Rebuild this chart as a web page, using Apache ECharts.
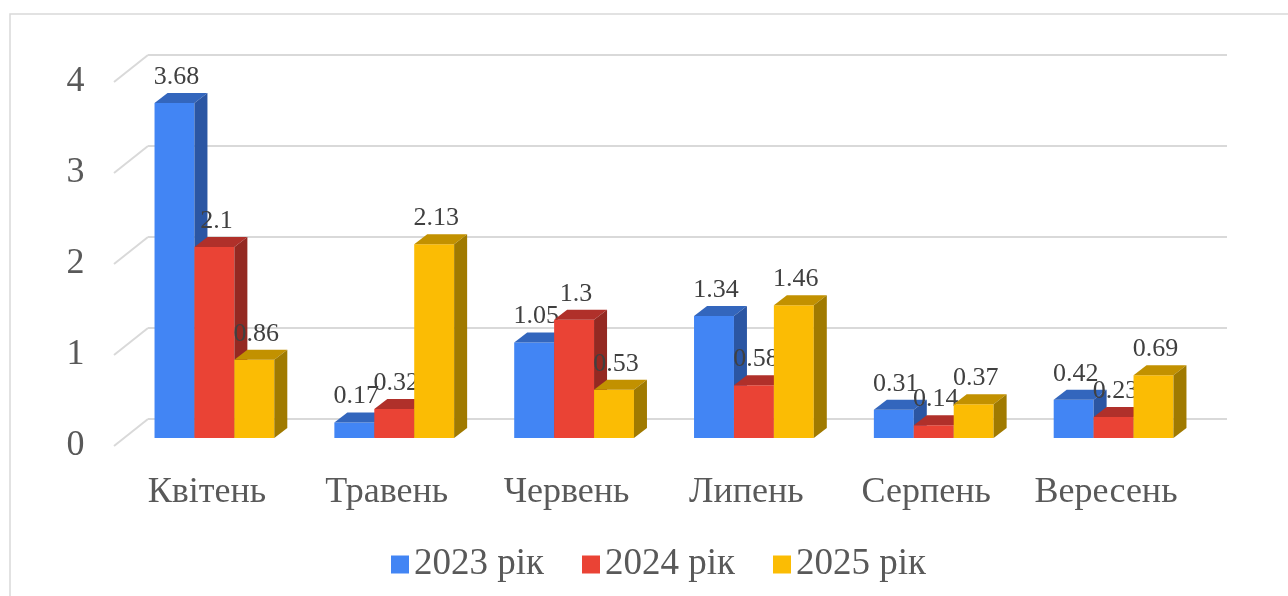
<!DOCTYPE html>
<html>
<head>
<meta charset="utf-8">
<script src="https://cdn.jsdelivr.net/npm/echarts@6/dist/echarts.min.js"></script>
<style>
  html, body { margin: 0; padding: 0; background: #fff; }
  #chart { width: 1288px; height: 596px; }
</style>
</head>
<body>
<div id="chart"></div>
<script>
var months = ['Квітень', 'Травень', 'Червень', 'Липень', 'Серпень', 'Вересень'];
var seriesNames = ['2023 рік', '2024 рік', '2025 рік'];
var values2023 = [3.68, 0.17, 1.05, 1.34, 0.31, 0.42];
var values2024 = [2.1, 0.32, 1.3, 0.58, 0.14, 0.23];
var values2025 = [0.86, 2.13, 0.53, 1.46, 0.37, 0.69];
var yTicks = [0, 1, 2, 3, 4];

var seriesValues = [values2023, values2024, values2025];
// front / top / side colours per series
var faceColors = [
  ['#4285f4', '#3366bd', '#2b56a3'],
  ['#ea4335', '#b0302a', '#942922'],
  ['#fbbc04', '#c29100', '#a07a00']
];
var serif = '"Liberation Serif", "DejaVu Serif", serif';

// bar depth and wall depth (pixels)
var barDx = 13, barDy = 10;
var backDx = 23.5, backDy = 19;
var frontDx = -10.5, frontDy = 8;

function barRender(si) {
  return function (params, api) {
    var cat = api.value(0);
    var val = api.value(1);
    var top = api.coord([cat, val]);
    var base = api.coord([cat, 0]);
    var band = api.size([1, 0])[0];
    var w = band * 0.222;
    var x0 = top[0] + (si - 1.5) * w;
    var yv = top[1], y0 = base[1];
    var c = faceColors[si];
    return {
      type: 'group',
      children: [
        {type: 'rect', shape: {x: x0, y: yv, width: w, height: y0 - yv}, style: {fill: c[0]}},
        {type: 'polygon', shape: {points: [[x0, yv], [x0 + barDx, yv - barDy], [x0 + w + barDx, yv - barDy], [x0 + w, yv]]}, style: {fill: c[1]}},
        {type: 'polygon', shape: {points: [[x0 + w, yv], [x0 + w + barDx, yv - barDy], [x0 + w + barDx, y0 - barDy], [x0 + w, y0]]}, style: {fill: c[2]}},
        {type: 'text', style: {text: String(val), x: x0 + w / 2 + 2, y: yv - barDy - 3, align: 'center', verticalAlign: 'bottom', fill: '#404040', fontSize: 26, fontFamily: serif}}
      ]
    };
  };
}

function gridRender(params, api) {
  var p = api.coord([0, api.value(1)]);
  var cs = params.coordSys;
  var y = p[1];
  var style = {stroke: '#d9d9d9', lineWidth: 2};
  return {
    type: 'group',
    children: [
      {type: 'line', shape: {x1: cs.x + frontDx, y1: y + frontDy, x2: cs.x + backDx, y2: y - backDy}, style: style},
      {type: 'line', shape: {x1: cs.x + backDx, y1: y - backDy, x2: cs.x + cs.width + backDx, y2: y - backDy}, style: style}
    ]
  };
}

var series = [{
  type: 'custom',
  silent: true,
  renderItem: gridRender,
  data: yTicks.map(function (v) { return [0, v]; }),
  z: 1
}];
seriesNames.forEach(function (name, i) {
  series.push({
    name: name,
    type: 'custom',
    renderItem: barRender(i),
    itemStyle: {color: faceColors[i][0]},
    data: seriesValues[i].map(function (v, j) { return [j, v]; }),
    z: 2 + i
  });
});

var chart = echarts.init(document.getElementById('chart'));
chart.setOption({
  animation: false,
  graphic: [{
    type: 'rect',
    shape: {x: 10, y: 14, width: 1300, height: 620},
    style: {fill: 'none', stroke: '#d9d9d9', lineWidth: 1.5},
    z: 0
  }],
  grid: {left: 124.5, right: 84.5, top: 74, bottom: 158},
  legend: {
    data: seriesNames,
    left: 386,
    top: 541,
    icon: 'rect',
    itemWidth: 18,
    itemHeight: 18,
    itemGap: 38,
    textStyle: {fontSize: 37, fontFamily: serif, color: '#595959'}
  },
  xAxis: {
    type: 'category',
    data: months,
    axisLine: {show: false},
    axisTick: {show: false},
    axisLabel: {interval: 0, fontSize: 36, fontFamily: serif, color: '#595959', margin: 37, padding: [0, 15, 0, 0]}
  },
  yAxis: {
    type: 'value',
    min: 0,
    max: 4,
    interval: 1,
    axisLine: {show: false},
    axisTick: {show: false},
    splitLine: {show: false},
    axisLabel: {fontSize: 36, fontFamily: serif, color: '#595959', margin: 40, verticalAlign: 'top', lineHeight: 16}
  },
  series: series
});
</script>
</body>
</html>
